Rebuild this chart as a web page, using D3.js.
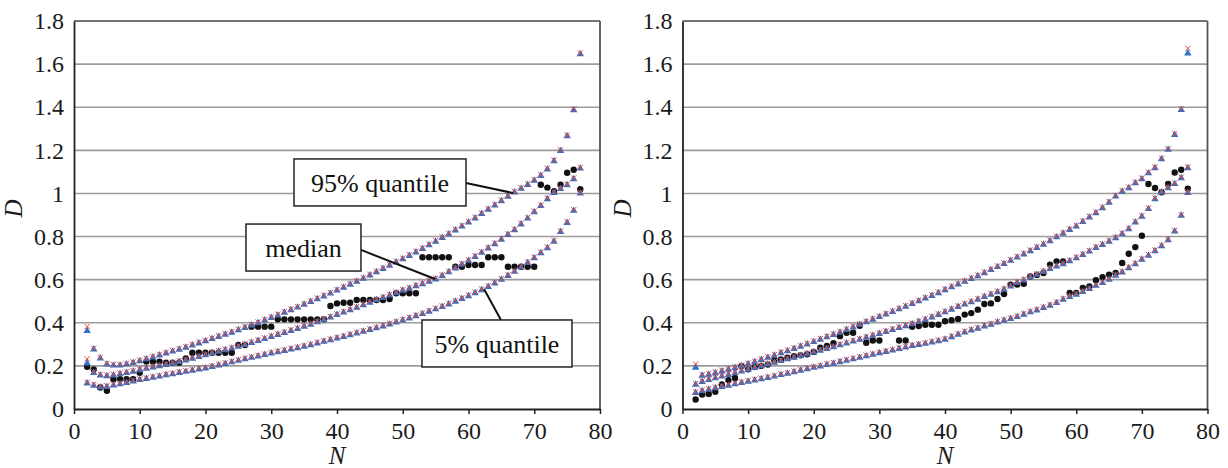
<!DOCTYPE html>
<html>
<head>
<meta charset="utf-8">
<script src="https://cdn.jsdelivr.net/npm/d3@7"></script>
<style>
  body { margin: 0; background: #fff; }
  svg { display: block; }
</style>
</head>
<body>
<div id="container"></div>
<script>
/* DATA */
const sampleSizes = [2,3,4,5,6,7,8,9,10,11,12,13,14,15,16,17,18,19,20,21,22,23,24,25,26,27,28,29,30,31,32,33,34,35,36,37,38,39,40,41,42,43,44,45,46,47,48,49,50,51,52,53,54,55,56,57,58,59,60,61,62,63,64,65,66,67,68,69,70,71,72,73,74,75,76,77];
const xTicks = [0, 10, 20, 30, 40, 50, 60, 70, 80];
const yTicks = [0, 0.2, 0.4, 0.6, 0.8, 1, 1.2, 1.4, 1.6, 1.8];
const calloutLabels = ["95% quantile", "median", "5% quantile"];

// left panel
const leftQ95 = [
  .362,.277,.235,.207,.202,.202,.207,.214,.222,.231,
  .240,.249,.258,.267,.276,.285,.295,.305,.315,.325,
  .335,.345,.355,.366,.377,.388,.399,.411,.423,.435,
  .447,.459,.471,.484,.497,.510,.523,.536,.550,.563,
  .577,.591,.605,.620,.635,.650,.665,.680,.695,.711,
  .727,.743,.760,.777,.794,.811,.829,.847,.866,.885,
  .905,.925,.945,.965,.985,1.005,1.022,1.040,1.060,1.082,
  1.112,1.150,1.198,1.266,1.387,1.647];
const leftMedian = [
  .212,.168,.156,.153,.156,.162,.168,.174,.181,.187,
  .193,.199,.205,.212,.219,.226,.234,.242,.250,.258,
  .266,.273,.281,.289,.298,.307,.316,.325,.335,.344,
  .353,.363,.372,.382,.392,.403,.414,.425,.437,.448,
  .459,.470,.482,.494,.505,.516,.527,.538,.549,.559,
  .570,.580,.591,.602,.618,.635,.652,.670,.688,.706,
  .725,.745,.765,.786,.808,.830,.857,.884,.914,.942,
  .974,1.003,1.021,1.039,1.067,1.116];
const leftQ05 = [
  .119,.109,.101,.103,.110,.116,.121,.128,.135,.140,
  .146,.151,.157,.162,.168,.173,.178,.184,.189,.196,
  .203,.210,.217,.224,.231,.238,.244,.251,.258,.264,
  .270,.277,.283,.290,.297,.305,.313,.320,.328,.335,
  .343,.351,.359,.367,.375,.384,.393,.402,.411,.421,
  .431,.441,.452,.463,.474,.486,.498,.511,.524,.538,
  .552,.567,.583,.600,.618,.637,.657,.678,.700,.723,
  .747,.777,.822,.864,.920,1.000];
const leftObserved = [
  .196,.184,.100,.085,.138,.138,.138,.138,.168,.220,
  .220,.220,.215,.215,.215,.235,.261,.261,.261,.261,
  .261,.261,.261,.297,.297,.382,.382,.382,.382,.416,
  .416,.416,.416,.416,.416,.416,.416,.478,.490,.493,
  .493,.506,.506,.506,.506,.506,.510,.537,.537,.537,
  .537,.704,.704,.704,.704,.704,.660,.660,.668,.668,
  .668,.704,.704,.704,.660,.660,.660,.660,.660,1.040,
  1.027,1.010,1.040,1.096,1.110,1.020];
// second estimate (red crosses) where it differs from the triangles
const leftRedOverrides = [
  {n: 2, series: "q95", value: .378},
  {n: 2, series: "median", value: .228}
];

// right panel
const rightQ95 = [
  .192,.155,.160,.167,.175,.183,.191,.199,.208,.218,
  .228,.238,.248,.259,.269,.279,.290,.300,.311,.322,
  .333,.344,.355,.367,.379,.391,.403,.415,.427,.439,
  .451,.463,.475,.488,.500,.513,.525,.538,.552,.565,
  .578,.591,.604,.617,.631,.645,.659,.673,.688,.703,
  .718,.733,.748,.763,.779,.797,.814,.831,.847,.868,
  .889,.909,.932,.958,.986,1.009,1.025,1.048,1.067,1.094,
  1.118,1.159,1.203,1.272,1.388,1.650];
const rightMedian = [
  .113,.126,.135,.143,.151,.159,.167,.175,.183,.191,
  .199,.207,.215,.223,.231,.239,.247,.255,.263,.271,
  .279,.287,.296,.305,.314,.322,.331,.340,.349,.358,
  .367,.376,.385,.394,.404,.414,.425,.437,.449,.461,
  .474,.485,.496,.508,.520,.531,.542,.554,.569,.585,
  .597,.611,.623,.636,.650,.662,.672,.686,.700,.715,
  .731,.748,.762,.777,.793,.812,.835,.866,.893,.928,
  .974,1.005,1.025,1.044,1.071,1.118];
const rightQ05 = [
  .075,.083,.090,.097,.103,.109,.115,.121,.127,.133,
  .139,.145,.151,.158,.164,.171,.178,.185,.192,.198,
  .205,.211,.218,.225,.231,.238,.245,.252,.259,.265,
  .272,.279,.286,.293,.298,.303,.309,.315,.322,.334,
  .345,.356,.365,.373,.384,.392,.402,.410,.418,.427,
  .438,.449,.458,.469,.480,.492,.508,.520,.531,.543,
  .557,.572,.585,.600,.619,.634,.654,.672,.693,.712,
  .733,.756,.784,.824,.897,1.003];
const rightObserved = [
  .044,.067,.070,.080,.114,.134,.144,.198,.184,.195,
  .200,.206,.226,.230,.238,.245,.249,.254,.265,.284,
  .293,.305,.338,.354,.354,.386,.307,.318,.318,null,
  null,.318,.318,.381,.385,.391,.391,.391,.407,.412,
  .418,.438,.445,.461,.487,.490,.510,.533,.577,.577,
  .581,.615,.622,.631,.670,.685,.685,.538,.538,.562,
  .569,.597,.612,.623,.631,.677,.720,.751,.804,1.044,
  1.025,1.005,1.044,1.097,1.110,1.022];
const rightRedOverrides = [
  {n: 2, series: "q95", value: .204},
  {n: 77, series: "q95", value: 1.668}
];

/* CONSTANTS AND GLOBALS */
const width = 1228;
const height = 468;
const plotTop = 21;
const plotBottom = 409;
const blue = "#2f72c8";
const red = "#e5473d";
const serif = "'Liberation Serif'";

const panels = [
  {
    left: 74, right: 600,
    quantiles: {q95: leftQ95, median: leftMedian, q05: leftQ05},
    observed: leftObserved,
    overrides: leftRedOverrides,
    callouts: [
      {label: calloutLabels[0], box: [46.54, 1.051], w: 172, from: [59.62, 1.048], to: [66.77, 1.002]},
      {label: calloutLabels[1], box: [34.9, 0.749], w: 115, from: [43.65, 0.738], to: [54.9, 0.603]},
      {label: calloutLabels[2], box: [64.33, 0.304], w: 150, from: [64.94, 0.413], to: [62.36, 0.557]}
    ]
  },
  {
    left: 682.5, right: 1207.5,
    quantiles: {q95: rightQ95, median: rightMedian, q05: rightQ05},
    observed: rightObserved,
    overrides: rightRedOverrides,
    callouts: []
  }
];

const svg = d3.select("#container")
  .append("svg")
  .attr("width", width)
  .attr("height", height);

panels.forEach(p => {

  /* SCALES */
  const xScale = d3.scaleLinear()
    .domain([0, 80])
    .range([p.left, p.right]);

  const yScale = d3.scaleLinear()
    .domain([0, 1.8])
    .range([plotBottom, plotTop]);

  const g = svg.append("g");

  // gridlines
  g.selectAll(".grid")
    .data(yTicks.filter(d => d > 0 && d < 1.8))
    .join("line")
    .attr("class", "grid")
    .attr("x1", p.left)
    .attr("x2", p.right)
    .attr("y1", d => yScale(d))
    .attr("y2", d => yScale(d))
    .attr("stroke", "#9c9c9c")
    .attr("stroke-width", 1.6);

  // frame top + right
  g.append("line")
    .attr("x1", p.left).attr("x2", p.right)
    .attr("y1", yScale(1.8)).attr("y2", yScale(1.8))
    .attr("stroke", "#444").attr("stroke-width", 1.6);
  g.append("line")
    .attr("x1", p.right).attr("x2", p.right)
    .attr("y1", yScale(1.8)).attr("y2", yScale(0))
    .attr("stroke", "#555").attr("stroke-width", 1.8);

  // AXIS
  const xAxis = d3.axisBottom(xScale)
    .tickValues(xTicks)
    .tickSizeInner(5)
    .tickSizeOuter(0)
    .tickPadding(8);

  const yAxis = d3.axisLeft(yScale)
    .tickValues(yTicks)
    .tickSize(0)
    .tickPadding(10)
    .tickFormat(d3.format("~g"));

  const gx = g.append("g")
    .attr("transform", `translate(0, ${plotBottom})`)
    .call(xAxis);
  const gy = g.append("g")
    .attr("transform", `translate(${p.left}, 0)`)
    .call(yAxis);

  [gx, gy].forEach(ax => {
    ax.attr("font-family", serif).attr("font-size", 24);
    ax.selectAll("path").attr("stroke", "#222").attr("stroke-width", 1.8);
    ax.selectAll("line").attr("stroke", "#222").attr("stroke-width", 1.5);
    ax.selectAll("text")
      .attr("font-family", serif)
      .attr("font-size", 24)
      .attr("fill", "#1a1a1a");
  });

  // axis titles
  g.append("text")
    .attr("transform", `translate(${p.left - 52}, ${yScale(0.93)}) rotate(-90)`)
    .attr("text-anchor", "middle")
    .attr("font-family", serif)
    .attr("font-style", "italic")
    .attr("font-size", 25)
    .attr("fill", "#1a1a1a")
    .text("D");

  g.append("text")
    .attr("x", (p.left + p.right) / 2)
    .attr("y", 464)
    .attr("text-anchor", "middle")
    .attr("font-family", serif)
    .attr("font-style", "italic")
    .attr("font-size", 25)
    .attr("fill", "#1a1a1a")
    .text("N");

  // observed dots
  const obs = sampleSizes
    .map((n, i) => ({n, v: p.observed[i]}))
    .filter(d => d.v !== null);

  g.selectAll(".dot")
    .data(obs)
    .join("circle")
    .attr("class", "dot")
    .attr("cx", d => xScale(d.n))
    .attr("cy", d => yScale(d.v))
    .attr("r", 3.2)
    .attr("fill", "#111");

  // quantile markers: blue triangles + red crosses
  const triangle = d3.symbol(d3.symbolTriangle, 24);
  const cross = d3.symbol(d3.symbolX, 20);

  Object.entries(p.quantiles).forEach(([key, arr]) => {
    const pts = sampleSizes.map((n, i) => ({n, v: arr[i]}));

    g.selectAll(".tri-" + key)
      .data(pts)
      .join("path")
      .attr("class", "tri-" + key)
      .attr("d", triangle)
      .attr("transform", d => `translate(${xScale(d.n)}, ${yScale(d.v)})`)
      .attr("fill", blue);

    const redPts = pts.map(d => {
      const o = p.overrides.find(o => o.n === d.n && o.series === key);
      return o ? {n: d.n, v: o.value} : d;
    });

    g.selectAll(".x-" + key)
      .data(redPts)
      .join("path")
      .attr("class", "x-" + key)
      .attr("d", cross)
      .attr("transform", d => `translate(${xScale(d.n)}, ${yScale(d.v) - 1})`)
      .attr("fill", "none")
      .attr("stroke", red)
      .attr("stroke-width", 1);
  });

  // callouts
  const boxH = 47;
  p.callouts.forEach(c => {
    g.append("line")
      .attr("x1", xScale(c.from[0]))
      .attr("y1", yScale(c.from[1]))
      .attr("x2", xScale(c.to[0]))
      .attr("y2", yScale(c.to[1]))
      .attr("stroke", "#111")
      .attr("stroke-width", 2);

    const cx = xScale(c.box[0]);
    const cy = yScale(c.box[1]);
    g.append("rect")
      .attr("x", cx - c.w / 2)
      .attr("y", cy - boxH / 2)
      .attr("width", c.w)
      .attr("height", boxH)
      .attr("fill", "#fff")
      .attr("stroke", "#222")
      .attr("stroke-width", 1.5);

    g.append("text")
      .attr("x", cx)
      .attr("y", cy)
      .attr("dy", "0.35em")
      .attr("text-anchor", "middle")
      .attr("font-family", serif)
      .attr("font-size", 26)
      .attr("fill", "#111")
      .text(c.label);
  });
});
</script>
</body>
</html>
